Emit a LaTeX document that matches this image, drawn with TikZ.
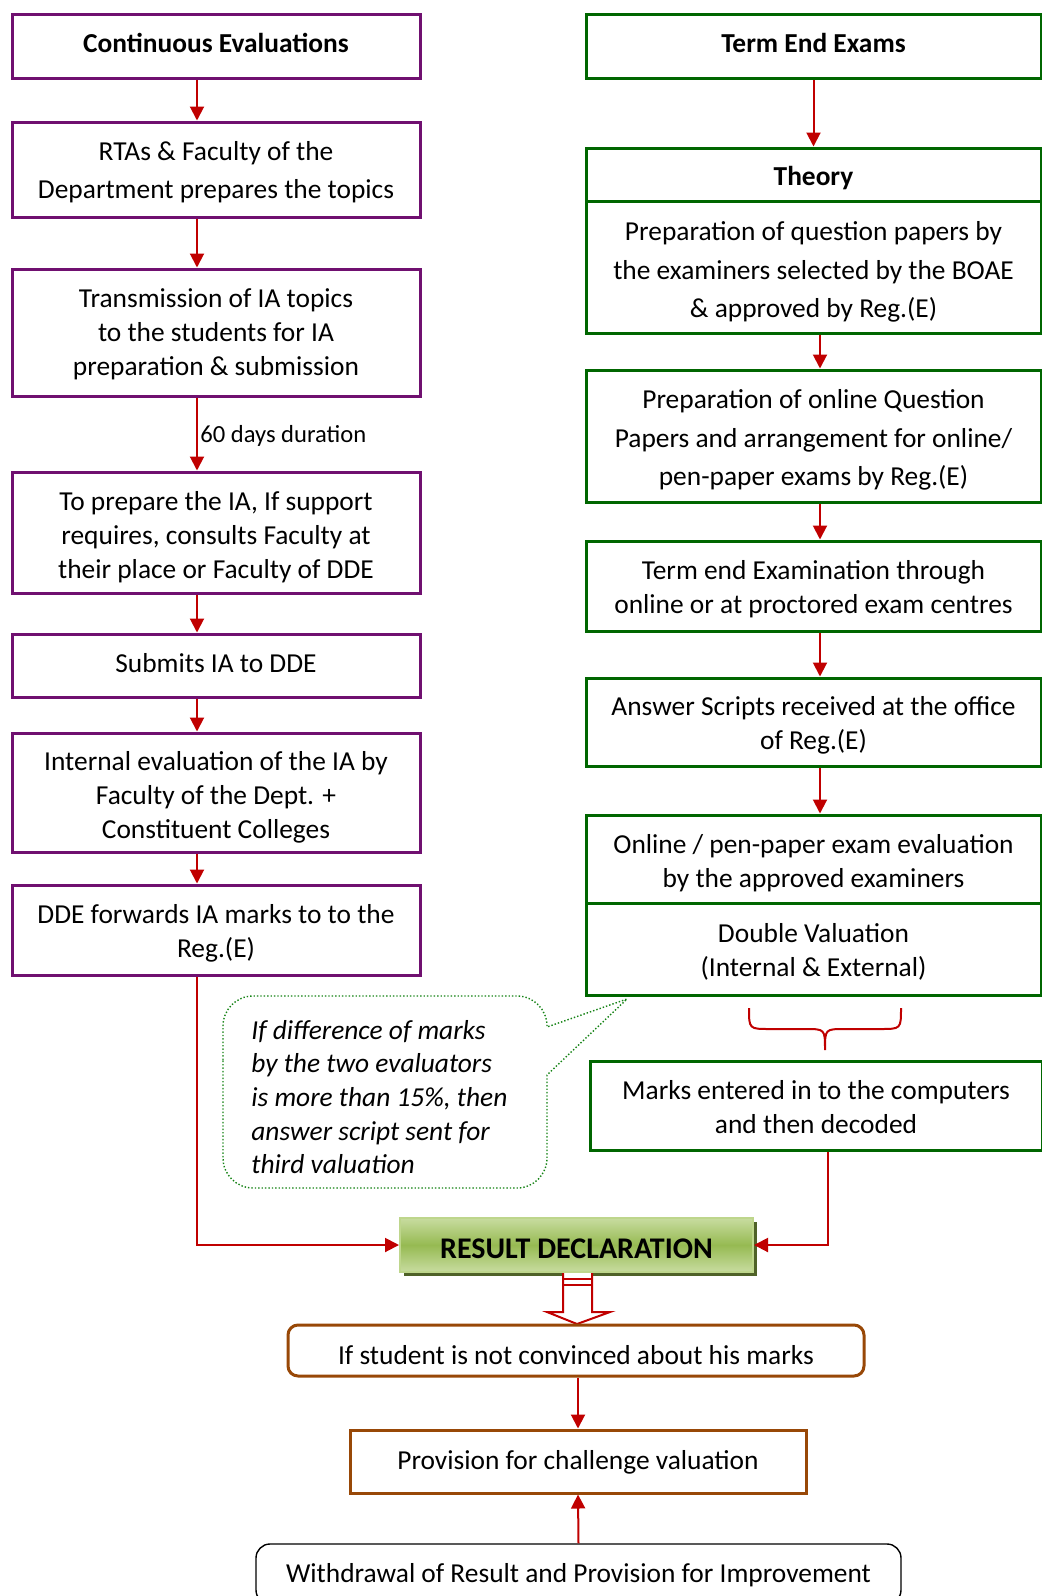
\documentclass[tikz,border=0pt]{standalone}
\usepackage{fontspec}
\setmainfont{Carlito}
\usetikzlibrary{arrows.meta,shadows}
\definecolor{pur}{RGB}{112,16,112}
\definecolor{grn}{RGB}{0,102,0}
\definecolor{brn}{RGB}{152,72,7}
\definecolor{arred}{RGB}{192,0,0}
\definecolor{cgrn}{RGB}{20,130,20}
\definecolor{gtop}{RGB}{200,220,160}
\definecolor{gmid}{RGB}{150,186,82}
\definecolor{gbord}{RGB}{190,214,140}
\definecolor{gshad}{RGB}{79,98,40}
\begin{document}
\begin{tikzpicture}[x=0.5pt,y=-0.5pt,
  txt/.style={font=\fontsize{13.7}{17}\selectfont, align=center, inner sep=0pt},
  wide/.style={font=\fontsize{13.7}{19.3}\selectfont},
  pbox/.style={draw=pur, line width=1.5pt, minimum width=204pt, inner sep=0pt},
  gbox/.style={draw=grn, line width=1.5pt, minimum width=227.5pt, inner sep=0pt},
  bbox/.style={draw=brn, line width=1.5pt, inner sep=0pt},
  arr/.style={draw=arred, line width=1pt, -{Triangle[length=7pt,width=7pt]}},
  conn/.style={draw=arred, line width=1pt}
]
\useasboundingbox (0,0) rectangle (1042,1596);

% left column boxes
\node[pbox, minimum height=32pt] (c1) at (216,46) {};
\node[pbox, minimum height=47.5pt] (c2) at (216,169.5) {};
\node[pbox, minimum height=63.5pt] (c3) at (216,332.5) {};
\node[pbox, minimum height=60.5pt] (c4) at (216,532.5) {};
\node[pbox, minimum height=31.5pt] (c5) at (216,665.5) {};
\node[pbox, minimum height=59.5pt] (c6) at (216,792.5) {};
\node[pbox, minimum height=45pt] (c7) at (216,930) {};
% left column texts
\node[txt] (c1t) at ([yshift=1.5pt]c1.center) {\textbf{Continuous Evaluations}};
\node[txt, wide] (c2t) at ([yshift=-1.25pt]c2.center) {RTAs \& Faculty of the\\Department prepares the topics};
\node[txt] (c3t) at ([yshift=-0.75pt]c3.center) {Transmission of IA topics\\to the students for IA\\preparation \& submission};
\node[txt] (c4t) at ([yshift=-2.25pt]c4.center) {To prepare the IA, If support\\requires, consults Faculty at\\their place or Faculty of DDE};
\node[txt] (c5t) at ([yshift=1pt]c5.center) {Submits IA to DDE};
\node[txt] (c6t) at ([yshift=-2.5pt]c6.center) {Internal evaluation of the IA by\\Faculty of the Dept. +\\Constituent Colleges};
\node[txt] (c7t) at ([yshift=-1.5pt]c7.center) {DDE forwards IA marks to to the\\Reg.(E)};

\foreach \a/\b in {c1/c2,c2/c3,c3/c4,c4/c5,c5/c6,c6/c7}
  \draw[arr] ([xshift=-9.5pt]\a.south) -- ([xshift=-9.5pt]\b.north);
\node[txt, anchor=west, font=\fontsize{12.3}{15}\selectfont] (lbl) at (200,436) {60 days duration};

% right column boxes
\node[gbox, minimum height=32pt] (t1) at (813.5,46) {};
\node[gbox, minimum height=26.5pt] (t2) at (813.5,174.5) {};
\node[gbox, minimum height=66pt] (t3) at (813.5,267) {};
\node[gbox, minimum height=66pt] (t4) at (813.5,436) {};
\node[gbox, minimum height=45pt] (t5) at (813.5,586) {};
\node[gbox, minimum height=44pt] (t6) at (813.5,722) {};
\node[gbox, minimum height=44pt] (t7) at (813.5,859) {};
\node[gbox, minimum height=46pt] (t8) at (813.5,949) {};
\node[gbox, minimum width=226pt, minimum height=44.5pt] (m) at (816,1105.5) {};
% right column texts
\node[txt] (t1t) at ([yshift=1.5pt]t1.center) {\textbf{Term End Exams}};
\node[txt] (t2t) at ([yshift=-2pt]t2.center) {\textbf{Theory}};
\node[txt, wide] (t3t) at ([yshift=-2.5pt]t3.center) {Preparation of question papers by\\the examiners selected by the BOAE\\\& approved by Reg.(E)};
\node[txt, wide] (t4t) at ([yshift=-2pt]t4.center) {Preparation of online Question\\Papers and arrangement for online/\\pen-paper exams by Reg.(E)};
\node[txt] (t5t) at ([yshift=-1.5pt]t5.center) {Term end Examination through\\online or at proctored exam centres};
\node[txt] (t6t) at ([yshift=-1.5pt]t6.center) {Answer Scripts received at the office\\of Reg.(E)};
\node[txt] (t7t) at ([yshift=-2pt]t7.center) {Online / pen-paper exam evaluation\\by the approved examiners};
\node[txt] (t8t) at ([yshift=-1.25pt]t8.center) {Double Valuation\\(Internal \& External)};
\node[txt] (mt) at ([yshift=-1pt]m.center) {Marks entered in to the computers\\and then decoded};

\draw[arr] (t1.south) -- (t2.north);
\foreach \a/\b in {t3/t4,t4/t5,t5/t6,t6/t7}
  \draw[arr] ([xshift=3.25pt]\a.south) -- ([xshift=3.25pt]\b.north);

% brace
\draw[arred, line width=1pt]
  (749,1008) .. controls (749,1029) .. (770,1029) -- (805,1029)
  .. controls (825,1029) .. (825,1050)
  .. controls (825,1029) .. (845,1029) -- (880,1029)
  .. controls (901,1029) .. (901,1008);

% callout
\draw[cgrn, densely dotted, line width=0.7pt]
  (223,1090) [rounded corners=15pt] |- (547,996) [sharp corners] -- (547,1027) -- (627,999) -- (547,1075)
  [rounded corners=15pt] |- (223,1188) -- cycle;
\node[txt, anchor=west, align=left, font=\fontsize{13.7}{16.8}\selectfont\itshape] (note) at (251,1097)
  {If difference of marks\\by the two evaluators\\is more than 15\%, then\\answer script sent for\\third valuation};

% result
\node[draw=gbord, line width=1pt,
  top color=gtop, bottom color=gtop, middle color=gmid,
  drop shadow={shadow xshift=2pt, shadow yshift=-2pt, fill=gshad, opacity=1},
  minimum width=176.5pt, minimum height=27pt, inner sep=0pt] (res) at (576.5,1245) {};
\node[txt, font=\fontsize{15}{18}\selectfont\bfseries] (rest) at ([yshift=-2pt]res.center) {RESULT DECLARATION};

\draw[arr] ([xshift=-9.5pt]c7.south) |- (res.west);
\draw[arr] ([xshift=6pt]m.south) |- (res.east);

% hollow arrow
\draw[arred, line width=1pt, fill=white, line join=miter]
  (563,1273) -- (563,1312) -- (547,1312) -- (577,1324) -- (610,1312) -- (592,1312) -- (592,1273);
\draw[arred, line width=1pt] (563,1279) -- (592,1279) (563,1285) -- (592,1285);

% bottom boxes
\node[bbox, rounded corners=5pt, minimum width=288pt, minimum height=25.5pt] (ifs) at (576,1350.5) {};
\node[bbox, minimum width=228pt, minimum height=31.5pt] (prov) at (578,1461.5) {};
\node[draw=black, line width=0.7pt, rounded corners=7pt, minimum width=322.5pt, minimum height=30pt, inner sep=0pt] (wd) at (578.5,1574) {};
\node[txt] (ifst) at ([yshift=-2.5pt]ifs.center) {If student is not convinced about his marks};
\node[txt] (provt) at ([yshift=-0.5pt]prov.center) {Provision for challenge valuation};
\node[txt] (wdt) at ([yshift=-0.5pt]wd.center) {Withdrawal of Result and Provision for Improvement};

\draw[arr] (ifs.south -| prov.north) -- (prov.north);
\draw[arr] (wd.north) -- (prov.south);
\end{tikzpicture}
\end{document}
